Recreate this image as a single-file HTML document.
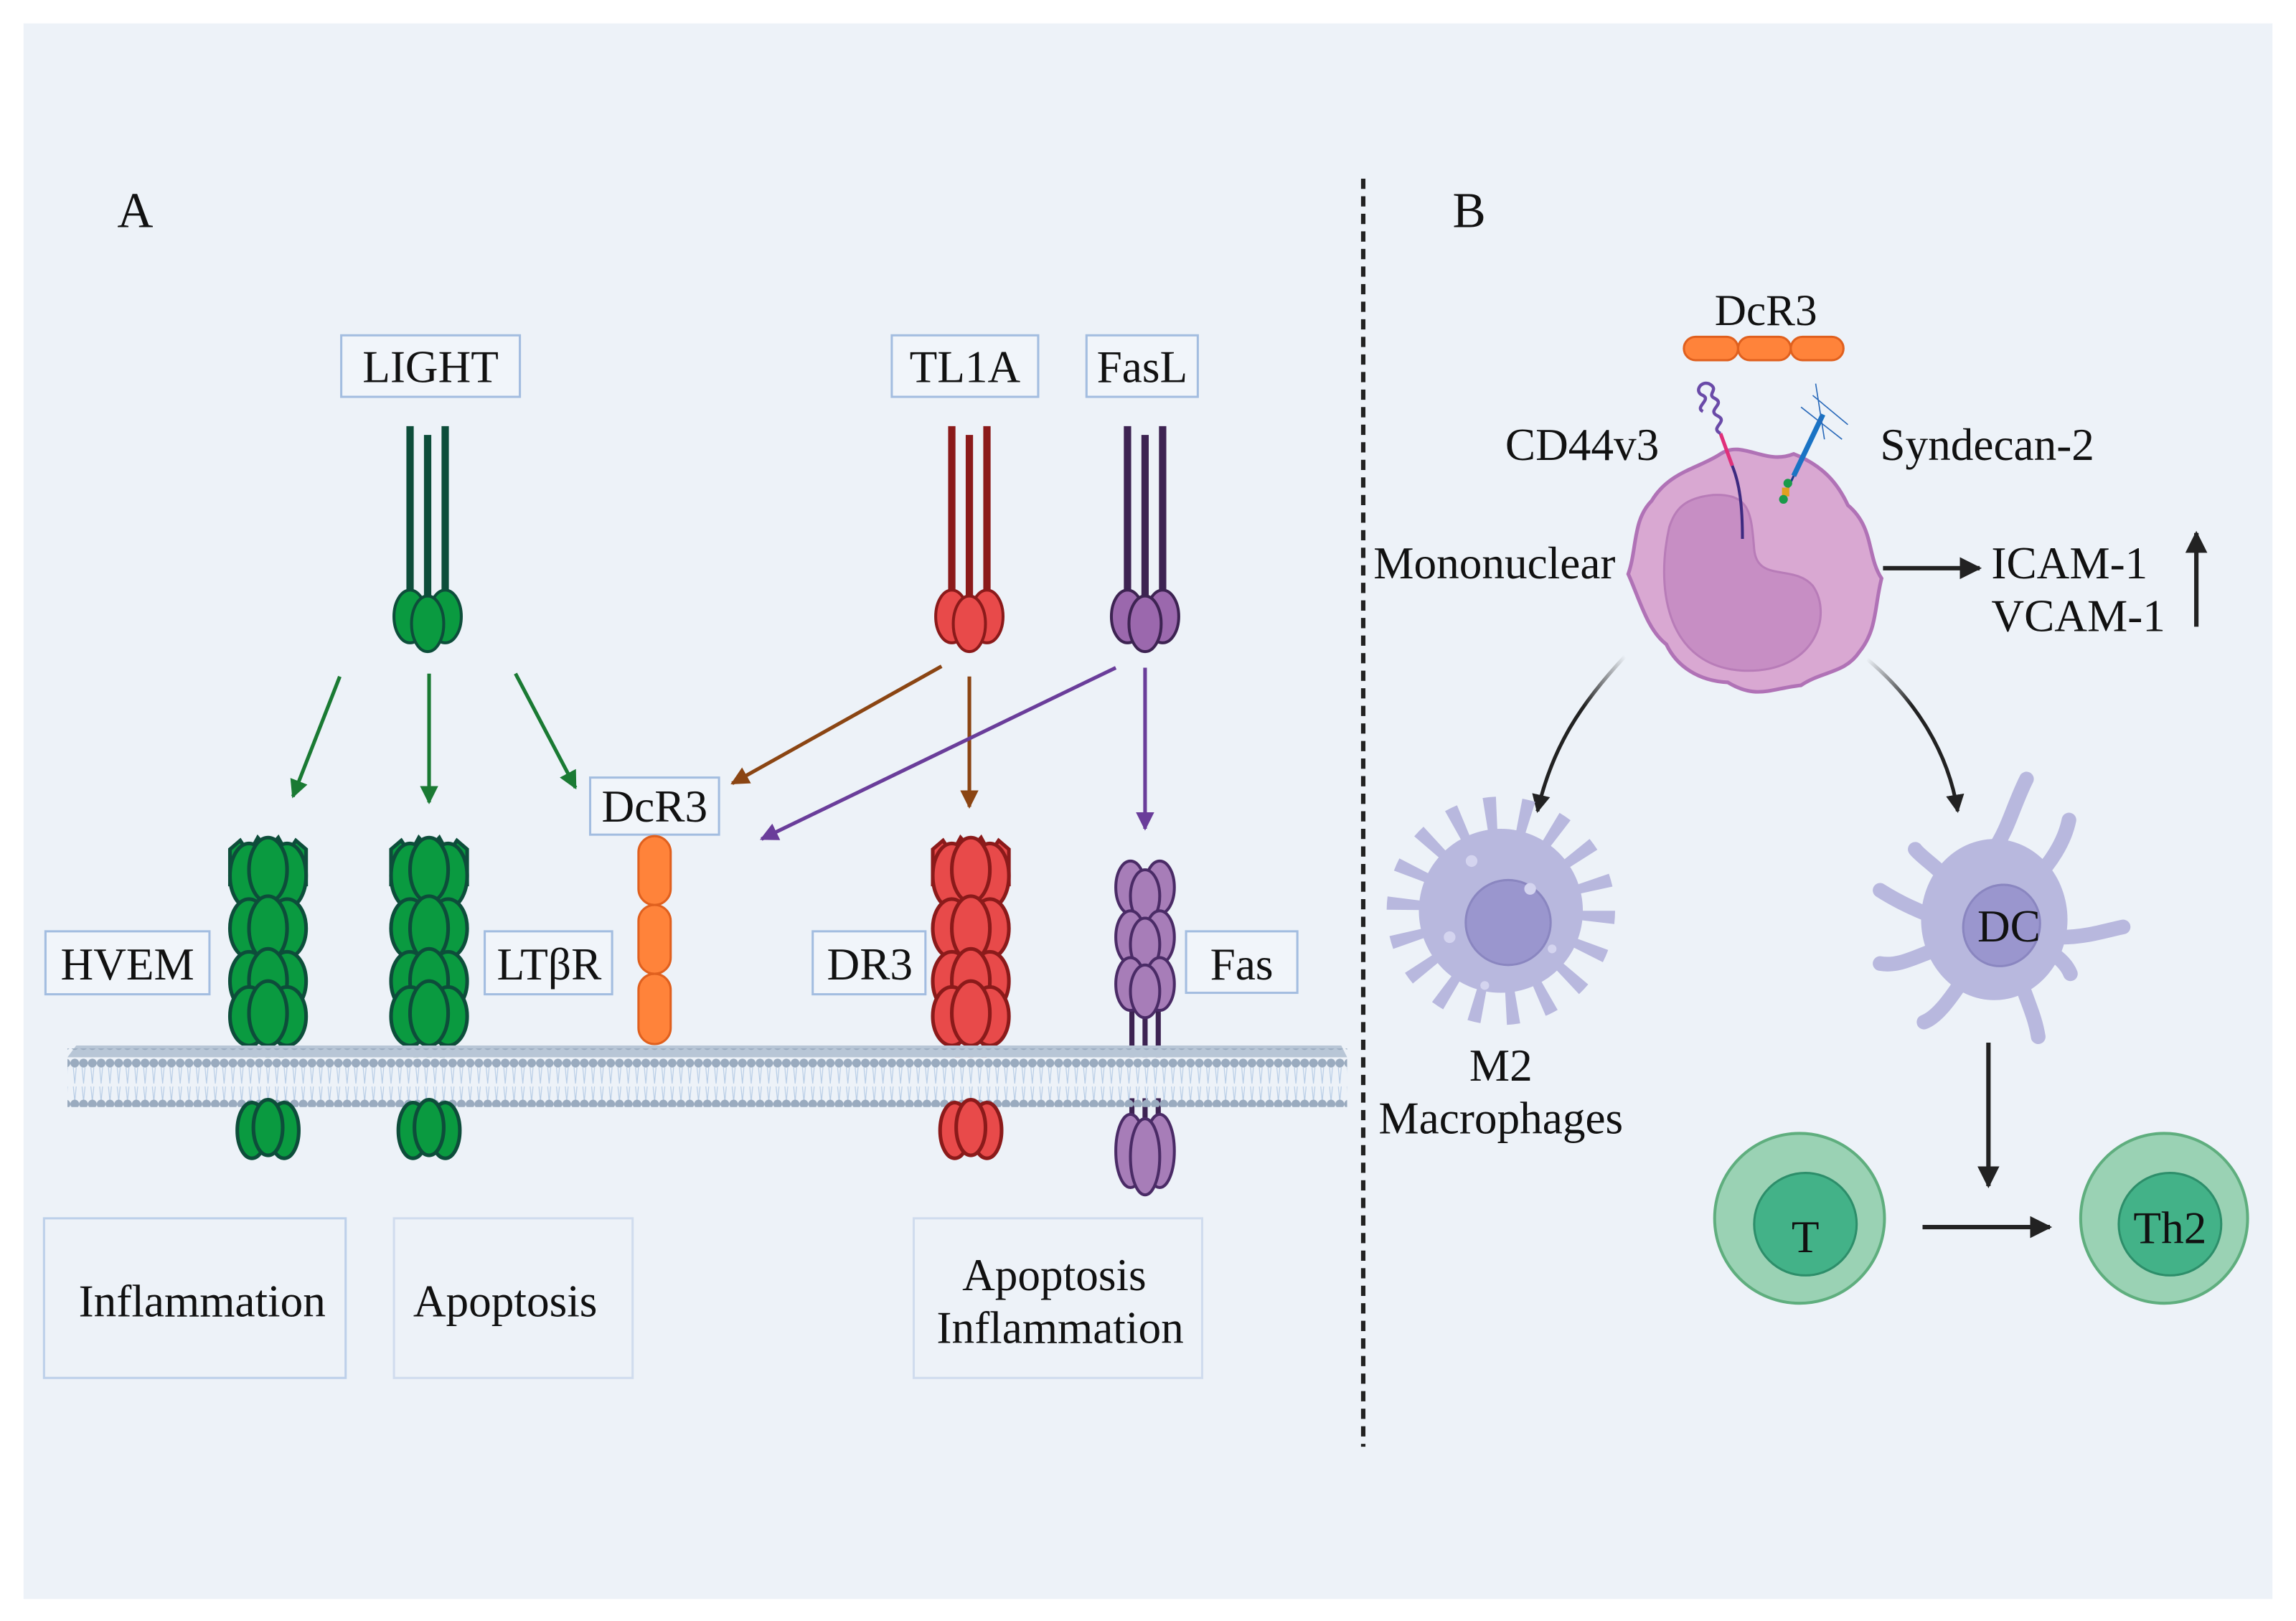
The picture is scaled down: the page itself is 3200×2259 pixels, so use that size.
<!DOCTYPE html>
<html><head><meta charset="utf-8"><style>
html,body{margin:0;padding:0;background:#fff;}
svg{display:block;}
text{font-family:"Liberation Serif",serif;fill:#111;}
</style></head><body>
<svg width="3200" height="2259" viewBox="0 0 1568 1107" xmlns="http://www.w3.org/2000/svg">
<defs>
<marker id="ag" viewBox="0 0 10 10" refX="9" refY="5" markerWidth="5" markerHeight="5" orient="auto"><path d="M0,0L10,5L0,10z" fill="#1a7a33"/></marker>
<marker id="ab" viewBox="0 0 10 10" refX="9" refY="5" markerWidth="5" markerHeight="5" orient="auto"><path d="M0,0L10,5L0,10z" fill="#8b4513"/></marker>
<marker id="ap" viewBox="0 0 10 10" refX="9" refY="5" markerWidth="5" markerHeight="5" orient="auto"><path d="M0,0L10,5L0,10z" fill="#6a3d9a"/></marker>
<marker id="ak" viewBox="0 0 10 10" refX="9" refY="5" markerWidth="5" markerHeight="5" orient="auto"><path d="M0,0L10,5L0,10z" fill="#222"/></marker>
<linearGradient id="fadeL" x1="1" y1="0" x2="0" y2="1"><stop offset="0" stop-color="#222" stop-opacity="0"/><stop offset="0.4" stop-color="#222"/></linearGradient>
<linearGradient id="fadeR" x1="0" y1="0" x2="1" y2="1"><stop offset="0" stop-color="#222" stop-opacity="0"/><stop offset="0.4" stop-color="#222"/></linearGradient>
<pattern id="heads" width="6" height="40" patternUnits="userSpaceOnUse">
<circle cx="3" cy="6" r="3" fill="#9aabbf"/>
<path d="M2,9 L3,20 M4,9 L3,20 M2,22 L3,32 M4,22 L3,32" stroke="#b8cde6" stroke-width="0.6"/>
<circle cx="3" cy="34" r="3" fill="#9aabbf"/>
</pattern>
<g id="rec">
<path d="M-26,6 L-19,0 L-13,9 L-7,-2 L0,6 L7,-2 L13,9 L19,0 L26,6 L26,30 L-26,30Z" />
<ellipse cx="-13" cy="24" rx="13" ry="22"/><ellipse cx="13" cy="24" rx="13" ry="22"/><ellipse cx="0" cy="20" rx="13" ry="22"/>
<ellipse cx="-13" cy="60" rx="13" ry="20"/><ellipse cx="13" cy="60" rx="13" ry="20"/><ellipse cx="0" cy="60" rx="13" ry="22"/>
<ellipse cx="-13" cy="96" rx="13" ry="20"/><ellipse cx="13" cy="96" rx="13" ry="20"/><ellipse cx="0" cy="96" rx="13" ry="22"/>
<ellipse cx="-13" cy="120" rx="13" ry="20"/><ellipse cx="13" cy="120" rx="13" ry="20"/><ellipse cx="0" cy="118" rx="13" ry="22"/>
</g>
<g id="intra">
<ellipse cx="-11" cy="20" rx="10" ry="19"/><ellipse cx="11" cy="20" rx="10" ry="19"/><ellipse cx="0" cy="18" rx="10" ry="19"/>
</g>
<g id="lig">
<path d="M-12,0V120M0,6V126M12,0V120" fill="none" stroke-width="5"/>
<ellipse cx="-12" cy="130" rx="11" ry="18" stroke-width="2"/><ellipse cx="12" cy="130" rx="11" ry="18" stroke-width="2"/><ellipse cx="0" cy="135" rx="11" ry="19" stroke-width="2"/>
</g>
</defs>
<rect x="0" y="0" width="1568" height="1107" fill="#fff"/>
<rect x="16" y="16" width="1536" height="1076" fill="#edf2f8"/>

<text x="80" y="155" font-size="34">A</text>
<text x="992" y="155" font-size="34">B</text>
<line x1="931" y1="122" x2="931" y2="988" stroke="#222" stroke-width="3" stroke-dasharray="7,5"/>

<g fill="#f1f5fa" stroke="#a3bde0" stroke-width="1.5">
<rect x="233" y="229" width="122" height="42"/><rect x="609" y="229" width="100" height="42"/><rect x="742" y="229" width="76" height="42"/>
<rect x="403" y="531" width="88" height="39"/><rect x="31" y="636" width="112" height="43"/><rect x="331" y="636" width="87" height="43"/>
<rect x="555" y="636" width="77" height="43"/><rect x="810" y="636" width="76" height="42"/>
<rect x="30" y="832" width="206" height="109" fill="none" stroke="#bdd0ea"/><rect x="269" y="832" width="163" height="109" fill="none" stroke="#d0dcee"/><rect x="624" y="832" width="197" height="109" fill="none" stroke="#d0dcee"/>
</g>
<g font-size="31" text-anchor="middle">
<text x="294" y="261">LIGHT</text><text x="659" y="261">TL1A</text><text x="780" y="261">FasL</text>
<text x="447" y="561">DcR3</text><text x="87" y="669">HVEM</text><text x="375" y="669">LTβR</text>
<text x="594" y="669">DR3</text><text x="848" y="669">Fas</text>
<text x="138" y="899">Inflammation</text><text x="345" y="899">Apoptosis</text>
<text x="720" y="881">Apoptosis</text><text x="724" y="917">Inflammation</text>
</g>

<use href="#lig" x="292" y="291" stroke="#0d4d3a" fill="#0a9a40"/>
<use href="#lig" x="662" y="291" stroke="#8b1a1a" fill="#e84a4a"/>
<use href="#lig" x="782" y="291" stroke="#3d2352" fill="#9b68ad"/>

<g stroke-width="2.5" fill="none">
<line x1="232" y1="462" x2="200" y2="544" stroke="#1a7a33" marker-end="url(#ag)"/>
<line x1="293" y1="460" x2="293" y2="548" stroke="#1a7a33" marker-end="url(#ag)"/>
<line x1="352" y1="460" x2="393" y2="538" stroke="#1a7a33" marker-end="url(#ag)"/>
<line x1="643" y1="455" x2="500" y2="535" stroke="#8b4513" marker-end="url(#ab)"/>
<line x1="662" y1="462" x2="662" y2="551" stroke="#8b4513" marker-end="url(#ab)"/>
<line x1="762" y1="456" x2="520" y2="573" stroke="#6a3d9a" marker-end="url(#ap)"/>
<line x1="782" y1="456" x2="782" y2="566" stroke="#6a3d9a" marker-end="url(#ap)"/>
</g>

<g stroke-width="3.5">
<path d="M174,705V722M183,705V722M192,705V722" stroke="#0d4d3a"/>
<path d="M284,705V722M293,705V722M302,705V722" stroke="#0d4d3a"/>
<path d="M654,705V722M663,705V722M672,705V722" stroke="#8b1a1a"/>
<path d="M773,690V722M782,690V722M791,690V722M773,750V770M782,750V770M791,750V770" stroke="#3d2352"/>
</g>
<use href="#rec" x="183" y="574" fill="#0a9a40" stroke="#0d4d3a" stroke-width="2.5"/>
<use href="#rec" x="293" y="574" fill="#0a9a40" stroke="#0d4d3a" stroke-width="2.5"/>
<use href="#rec" x="663" y="574" fill="#e84a4a" stroke="#8b1a1a" stroke-width="2.5"/>
<g fill="#a77db8" stroke="#4a2b66" stroke-width="2">
<ellipse cx="772" cy="606" rx="10" ry="18"/><ellipse cx="792" cy="606" rx="10" ry="18"/><ellipse cx="782" cy="612" rx="10" ry="18"/>
<ellipse cx="772" cy="640" rx="10" ry="18"/><ellipse cx="792" cy="640" rx="10" ry="18"/><ellipse cx="782" cy="645" rx="10" ry="18"/>
<ellipse cx="772" cy="672" rx="10" ry="18"/><ellipse cx="792" cy="672" rx="10" ry="18"/><ellipse cx="782" cy="677" rx="10" ry="18"/>
<ellipse cx="772" cy="786" rx="10" ry="25"/><ellipse cx="792" cy="786" rx="10" ry="25"/><ellipse cx="782" cy="790" rx="10" ry="26"/>
</g>
<g fill="#ff833a" stroke="#e0601e" stroke-width="1.5">
<rect x="436" y="571" width="22" height="47" rx="11"/><rect x="436" y="618" width="22" height="47" rx="11"/><rect x="436" y="665" width="22" height="48" rx="11"/>
</g>
<path d="M46,722 L52,714 L916,714 L920,722Z" fill="#b8c6d6"/>
<rect x="46" y="716" width="874" height="40" fill="url(#heads)"/>
<use href="#intra" x="183" y="752" fill="#0a9a40" stroke="#0d4d3a" stroke-width="2.5"/>
<use href="#intra" x="293" y="752" fill="#0a9a40" stroke="#0d4d3a" stroke-width="2.5"/>
<use href="#intra" x="663" y="752" fill="#e84a4a" stroke="#8b1a1a" stroke-width="2.5"/>

<!-- Panel B -->
<text x="1206" y="222" font-size="30" text-anchor="middle">DcR3</text>
<g fill="#ff833a" stroke="#e0601e" stroke-width="1.5">
<rect x="1150" y="230" width="37" height="16" rx="8"/><rect x="1187" y="230" width="36" height="16" rx="8"/><rect x="1223" y="230" width="36" height="16" rx="8"/>
</g>
<path d="M1175,310 C1190,300 1205,318 1225,310 C1245,318 1255,330 1262,345 C1280,360 1275,380 1285,395 C1280,415 1282,430 1270,445 C1260,460 1245,458 1230,468 C1210,470 1200,478 1180,466 C1160,465 1145,455 1138,440 C1125,430 1120,410 1112,392 C1118,375 1115,355 1128,342 C1140,322 1160,320 1175,310Z" fill="#d9a8d2" stroke="#b072b6" stroke-width="2.5"/>
<path d="M1140,360 C1130,405 1140,455 1190,458 C1240,460 1252,420 1238,400 C1225,385 1200,398 1198,375 C1196,350 1195,337 1170,338 C1150,340 1144,348 1140,360Z" fill="#c78ec4" stroke="#b87cb8" stroke-width="1.5"/>
<path d="M1183,318 C1188,330 1190,345 1190,368" stroke="#3d2a80" stroke-width="2" fill="none"/>
<path d="M1175,296 L1183,318" stroke="#e0307a" stroke-width="2.5"/>
<path d="M1175,296 c-8,-4 6,-8 -2,-12 c-8,-4 6,-8 -2,-12 c-6,-3 4,-6 -4,-10 c-6,-2 -10,6 -4,8 c6,3 -6,8 0,11" stroke="#6a4aa8" stroke-width="2.2" fill="none"/>
<line x1="1245" y1="283" x2="1225" y2="325" stroke="#1a73c4" stroke-width="3.5"/>
<line x1="1225" y1="325" x2="1218" y2="340" stroke="#1a3a8a" stroke-width="1.5"/>
<path d="M1238,270 L1262,290 M1230,278 L1258,300 M1240,262 L1246,300" stroke="#2a6aba" stroke-width="0.8" fill="none"/>
<circle cx="1221" cy="330" r="3" fill="#1a9a4a"/><rect x="1217" y="333" width="5" height="6" fill="#e0a020"/><circle cx="1218" cy="341" r="3" fill="#1a9a4a"/>
<g font-size="31">
<text x="1028" y="314">CD44v3</text><text x="1284" y="314">Syndecan-2</text>
<text x="938" y="395">Mononuclear</text><text x="1360" y="395">ICAM-1</text><text x="1360" y="431">VCAM-1</text>
</g>
<line x1="1286" y1="388" x2="1352" y2="388" stroke="#222" stroke-width="3" marker-end="url(#ak)"/>
<line x1="1500" y1="428" x2="1500" y2="364" stroke="#222" stroke-width="3" marker-end="url(#ak)"/>
<path d="M1110,448 C1080,480 1060,510 1050,554" stroke="url(#fadeL)" stroke-width="2.5" fill="none" marker-end="url(#ak)"/>
<path d="M1275,450 C1305,475 1330,510 1337,554" stroke="url(#fadeR)" stroke-width="2.5" fill="none" marker-end="url(#ak)"/>
<!-- M2 macrophage -->
<circle cx="1025" cy="622" r="60" fill="none" stroke="#b8b8de" stroke-width="36" stroke-dasharray="7,14"/>
<circle cx="1025" cy="622" r="56" fill="#b8b8de"/>
<circle cx="1030" cy="630" r="29" fill="#9a96ce" stroke="#8a86c0" stroke-width="1.5"/>
<g fill="#d4d4ef"><circle cx="1005" cy="588" r="4"/><circle cx="1045" cy="607" r="4"/><circle cx="990" cy="640" r="4"/><circle cx="1014" cy="673" r="3"/><circle cx="1060" cy="648" r="3"/></g>
<text x="1025" y="738" font-size="31" text-anchor="middle">M2</text>
<text x="1025" y="774" font-size="31" text-anchor="middle">Macrophages</text>
<!-- DC -->
<g stroke="#b8b8de" stroke-width="10" stroke-linecap="round" fill="none">
<path d="M1362,580 C1372,565 1375,550 1384,532"/><path d="M1390,600 C1400,590 1410,575 1413,560"/>
<path d="M1330,600 C1320,590 1312,585 1308,580"/><path d="M1318,625 C1305,620 1295,615 1284,608"/>
<path d="M1318,650 C1305,655 1295,660 1284,658"/><path d="M1408,640 C1425,640 1440,635 1450,633"/>
<path d="M1340,670 C1330,685 1322,695 1314,698"/><path d="M1380,670 C1385,685 1390,695 1392,708"/>
<path d="M1400,650 C1408,655 1412,660 1414,665"/>
</g>
<ellipse cx="1362" cy="628" rx="50" ry="55" fill="#b8b8de"/>
<ellipse cx="1367" cy="632" rx="26" ry="28" fill="#9a96ce" stroke="#8a86c0" stroke-width="1.5" transform="rotate(20 1367 632)"/>
<text x="1372" y="643" font-size="31" text-anchor="middle">DC</text>
<line x1="1358" y1="712" x2="1358" y2="810" stroke="#222" stroke-width="3" marker-end="url(#ak)"/>
<ellipse cx="1229" cy="832" rx="58" ry="58" fill="#9ad2b4" stroke="#5fae7e" stroke-width="2"/>
<circle cx="1233" cy="836" r="35" fill="#43b288" stroke="#2d8e6a" stroke-width="1.5"/>
<text x="1233" y="855" font-size="31" text-anchor="middle">T</text>
<line x1="1313" y1="838" x2="1400" y2="838" stroke="#222" stroke-width="3" marker-end="url(#ak)"/>
<ellipse cx="1478" cy="832" rx="57" ry="58" fill="#9ad2b4" stroke="#5fae7e" stroke-width="2"/>
<circle cx="1482" cy="836" r="35" fill="#43b288" stroke="#2d8e6a" stroke-width="1.5"/>
<text x="1482" y="849" font-size="31" text-anchor="middle">Th2</text>
</svg>
</body></html>
